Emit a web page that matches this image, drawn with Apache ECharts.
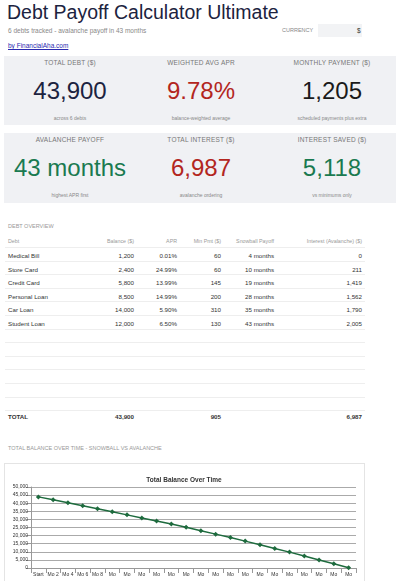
<!DOCTYPE html>
<html><head><meta charset="utf-8">
<script src="https://cdn.jsdelivr.net/npm/echarts@6/dist/echarts.min.js"></script>
<style>
body{margin:0;width:400px;height:581px;overflow:hidden;font-family:"Liberation Sans",Arial,sans-serif;background:#fff;position:relative}
.a{position:absolute;white-space:nowrap}
.card{position:absolute;background:#f0f1f4}
.cl{position:absolute;width:130px;text-align:center;font-size:6.5px;color:#777;letter-spacing:.2px}
.cv{position:absolute;width:130px;text-align:center;font-size:24px}
.cs{position:absolute;width:130px;text-align:center;font-size:5px;color:#888}
.td{position:absolute;font-size:6.2px;color:#333}
.r{text-align:right}
.ln{position:absolute;left:5px;width:360px;height:1px;background:#eee}
</style></head><body>
<div class="a" style="left:7px;top:1px;font-size:19.5px;color:#1c2340">Debt Payoff Calculator Ultimate</div>
<div class="a" style="left:8px;top:27px;font-size:6.5px;color:#888">6 debts tracked - avalanche payoff in 43 months</div>
<div class="a" style="left:282px;top:27px;font-size:5.5px;color:#888">CURRENCY</div>
<div class="a" style="left:318px;top:24px;width:44px;height:13px;background:#f2f3f5"></div>
<div class="a" style="left:357px;top:27px;font-size:6.5px;color:#333">$</div>
<div class="a" style="left:8px;top:42px;font-size:6.5px;color:#2a2ab0;text-decoration:underline">by FinancialAha.com</div>
<div class="card" style="left:4px;top:56px;width:392px;height:69px"></div>
<div class="card" style="left:4px;top:133px;width:392px;height:70px"></div>
<div id="cards"></div>
<div class="a" style="left:8px;top:223px;font-size:5.5px;color:#999">DEBT OVERVIEW</div>
<div id="tbl"></div>
<div class="a" style="left:8px;top:445px;font-size:5.5px;color:#999">TOTAL BALANCE OVER TIME - SNOWBALL VS AVALANCHE</div>
<div class="a" style="left:4px;top:463px;width:359px;height:118px;border:1px solid #e4e4e4;border-bottom:none;background:#fff"></div>
<div id="c" style="position:absolute;left:4px;top:463px;width:360px;height:125px"></div>
<script>
const debts=["Medical Bill","Store Card","Credit Card","Personal Loan","Car Loan","Student Loan"];
const balances=["1,200","2,400","5,800","8,500","14,000","12,000"];
const aprs=["0.01%","24.99%","13.99%","14.99%","5.90%","6.50%"];
const minPmts=["60","60","145","200","310","130"];
const snowball=["4 months","10 months","19 months","28 months","35 months","43 months"];
const interest=["0","211","1,419","1,562","1,790","2,005"];
const months=["Start","Mo 2","Mo 4","Mo 6","Mo 8","Mo 10","Mo 12","Mo 14","Mo 16","Mo 18","Mo 20","Mo 22","Mo 24","Mo 26","Mo 28","Mo 30","Mo 32","Mo 34","Mo 36","Mo 38","Mo 40","Mo 42"];
const totalBalance=[43900,42100,40300,38400,36600,34700,32800,30900,29000,27100,25100,23000,20900,18800,16600,14400,12100,9800,7400,5000,2600,200];
const yTicks=[0,5000,10000,15000,20000,25000,30000,35000,40000,45000,50000];
const cards=[
["TOTAL DEBT ($)","43,900","across 6 debts","#1c2340"],
["WEIGHTED AVG APR","9.78%","balance-weighted average","#b3261e"],
["MONTHLY PAYMENT ($)","1,205","scheduled payments plus extra","#1a1a1a"],
["AVALANCHE PAYOFF","43 months","highest APR first","#1a7a50"],
["TOTAL INTEREST ($)","6,987","avalanche ordering","#b3261e"],
["INTEREST SAVED ($)","5,118","vs minimums only","#1a7a50"]];
let h="";
cards.forEach((c,i)=>{const x=5+(i%3)*131,y=i<3?0:77;
h+=`<div class="cl" style="left:${x}px;top:${59+y}px">${c[0]}</div><div class="cv" style="left:${x}px;top:${77+y}px;color:${c[3]}">${c[1]}</div><div class="cs" style="left:${x}px;top:${115+y}px">${c[2]}</div>`;});
document.getElementById("cards").innerHTML=h;
h="";
const hdr=[["Debt",8,0],["Balance ($)",134,1],["APR",177,1],["Min Pmt ($)",221,1],["Snowball Payoff",274,1],["Interest (Avalanche) ($)",362,1]];
hdr.forEach(c=>{h+=c[2]?`<div class="td r" style="right:${400-c[1]}px;top:238px;font-size:5.3px;color:#999">${c[0]}</div>`:`<div class="td" style="left:${c[1]}px;top:238px;font-size:5.3px;color:#999">${c[0]}</div>`;});
for(let i=0;i<6;i++){const y=252+i*13.6;
const v=[balances[i],aprs[i],minPmts[i],snowball[i],interest[i]];
h+=`<div class="td" style="left:8px;top:${y}px">${debts[i]}</div>`;
v.forEach((t,j)=>{h+=`<div class="td r" style="right:${400-hdr[j+1][1]}px;top:${y}px">${t}</div>`;});}
for(let i=0;i<13;i++)h+=`<div class="ln" style="top:${247+i*13.6}px"></div>`;
h+=`<div class="td" style="left:8px;top:413px;font-weight:bold">TOTAL</div><div class="td r" style="right:266px;top:413px;font-weight:bold">43,900</div><div class="td r" style="right:179px;top:413px;font-weight:bold">905</div><div class="td r" style="right:38px;top:413px;font-weight:bold">6,987</div>`;
document.getElementById("tbl").innerHTML=h;
const ch=echarts.init(document.getElementById("c"));
ch.setOption({animation:false,
title:{text:"Total Balance Over Time",left:"center",top:9,textStyle:{fontSize:6.5,fontWeight:"bold",color:"#333",fontFamily:"Liberation Sans"}},
grid:{left:27,right:8,top:24,bottom:20},
xAxis:{type:"category",data:months,boundaryGap:true,axisLine:{lineStyle:{color:"#999"}},axisTick:{show:true,alignWithLabel:false,lineStyle:{color:"#999"}},
 axisLabel:{interval:0,fontSize:5,color:"#333",margin:4,formatter:v=>(v.startsWith("Mo ")&&v.length>4)?"Mo":v}},
yAxis:{type:"value",min:yTicks[0],max:yTicks[yTicks.length-1],interval:5000,
 axisLabel:{fontSize:5,color:"#333",margin:3,formatter:v=>v.toLocaleString("en-US")},
 axisLine:{show:true,lineStyle:{color:"#999"}},axisTick:{show:true,lineStyle:{color:"#999"}},splitLine:{lineStyle:{color:"#aaa"}}},
series:[{type:"line",data:totalBalance,symbol:"diamond",symbolSize:5,itemStyle:{color:"#1e6b3e"},lineStyle:{color:"#1e6b3e",width:1.5}}]});
</script></body></html>
